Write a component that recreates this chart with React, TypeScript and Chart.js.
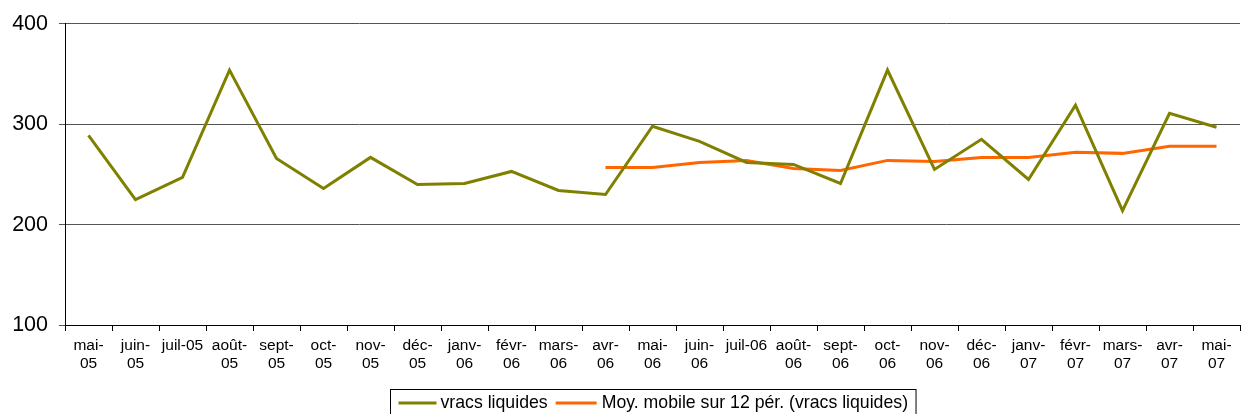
import React, { useEffect, useRef } from "react";
import { Chart, registerables } from "chart.js";

Chart.register(...registerables);

const categories: string[][] = [
  ["mai-", "05"], ["juin-", "05"], ["juil-05"], ["août-", "05"], ["sept-", "05"],
  ["oct-", "05"], ["nov-", "05"], ["déc-", "05"], ["janv-", "06"], ["févr-", "06"],
  ["mars-", "06"], ["avr-", "06"], ["mai-", "06"], ["juin-", "06"], ["juil-06"],
  ["août-", "06"], ["sept-", "06"], ["oct-", "06"], ["nov-", "06"], ["déc-", "06"],
  ["janv-", "07"], ["févr-", "07"], ["mars-", "07"], ["avr-", "07"], ["mai-", "07"],
];

const vracsLiquides: number[] = [
  289, 225, 247, 354, 266, 236, 267, 240, 241, 253, 234, 230, 298,
  283, 262, 260, 241, 354, 255, 285, 245, 319, 214, 311, 297,
];

const moyMobile: (number | null)[] = [
  null, null, null, null, null, null, null, null, null, null, null,
  257, 257, 262, 264, 256, 254, 264, 263, 267, 267, 272, 271, 278, 278,
];

const seriesLabels = ["vracs liquides", "Moy. mobile sur 12 pér. (vracs liquides)"];
const yTicks = [100, 200, 300, 400];

const FONT = "Arial, 'Liberation Sans', sans-serif";

const legendPlugin = {
  id: "boxedLegend",
  afterDraw(chart: any) {
    const ctx = chart.ctx;
    const area = chart.chartArea;
    ctx.save();
    ctx.font = `17.7px ${FONT}`;
    const ds = chart.data.datasets;
    const lineW = [38, 41];
    const w0 = ctx.measureText(ds[0].label).width;
    const w1 = ctx.measureText(ds[1].label).width;
    const total = 8 + lineW[0] + 4 + w0 + 8 + lineW[1] + 5 + w1 + 8;
    const cx = (area.left + area.right) / 2;
    const left = Math.round(cx - total / 2) + 0.5;
    const top = 389.5;
    ctx.strokeStyle = "#000";
    ctx.lineWidth = 1;
    ctx.strokeRect(left, top, total, 40);
    const cy = 403;
    let x = left + 8;
    const items = [
      { w: lineW[0], text: ds[0].label, color: ds[0].borderColor, gap: 4, tw: w0 },
      { w: lineW[1], text: ds[1].label, color: ds[1].borderColor, gap: 5, tw: w1 },
    ];
    items.forEach((it, i) => {
      ctx.strokeStyle = it.color;
      ctx.lineWidth = 3;
      ctx.beginPath();
      ctx.moveTo(x, cy);
      ctx.lineTo(x + it.w, cy);
      ctx.stroke();
      x += it.w + it.gap;
      ctx.fillStyle = "#000";
      ctx.textBaseline = "middle";
      ctx.textAlign = "left";
      ctx.fillText(it.text, x, cy);
      x += it.tw + (i === 0 ? 8 : 0);
    });
    ctx.restore();
  },
};

export default function App() {
  const ref = useRef<HTMLCanvasElement | null>(null);
  useEffect(() => {
    if (!ref.current) return;
    const chart = new Chart(ref.current, {
      type: "line",
      data: {
        labels: categories,
        datasets: [
          {
            label: seriesLabels[0],
            data: vracsLiquides,
            borderColor: "#808000",
            backgroundColor: "#808000",
            borderWidth: 3,
            pointRadius: 0,
            tension: 0,
          },
          {
            label: seriesLabels[1],
            data: moyMobile,
            borderColor: "#FF6600",
            backgroundColor: "#FF6600",
            borderWidth: 3,
            pointRadius: 0,
            tension: 0,
          },
        ],
      },
      options: {
        animation: false,
        responsive: false,
        layout: { padding: { top: 20, right: 2, bottom: 0, left: 0 } },
        plugins: {
          legend: { display: false },
          tooltip: { enabled: false },
        },
        scales: {
          x: {
            offset: true,
            grid: {
              offset: true,
              drawOnChartArea: false,
              drawTicks: true,
              tickLength: 6,
              color: "#000",
            },
            border: { display: true, color: "#000", width: 1 },
            ticks: {
              color: "#000",
              font: { family: FONT, size: 15.5 },
              maxRotation: 0,
              autoSkip: false,
              padding: 5,
            },
            afterFit: (s: any) => {
              s.height = 89;
            },
          },
          y: {
            min: 100,
            max: 400,
            afterBuildTicks: (s: any) => {
              s.ticks = yTicks.map((v) => ({ value: v }));
            },
            grid: {
              color: "#555",
              tickLength: 6,
              drawTicks: true,
            },
            border: { display: true, color: "#000", width: 1 },
            ticks: {
              color: "#000",
              font: { family: FONT, size: 21.5 },
              padding: 11,
            },
            afterFit: (s: any) => {
              s.width = 65;
            },
          },
        },
      },
      plugins: [legendPlugin],
    });
    return () => chart.destroy();
  }, []);
  return (
    <div style={{ position: "absolute", left: 0, top: 0, width: 1242, height: 414, background: "#fff" }}>
      <canvas ref={ref} width={1242} height={414} style={{ display: "block" }} />
    </div>
  );
}
